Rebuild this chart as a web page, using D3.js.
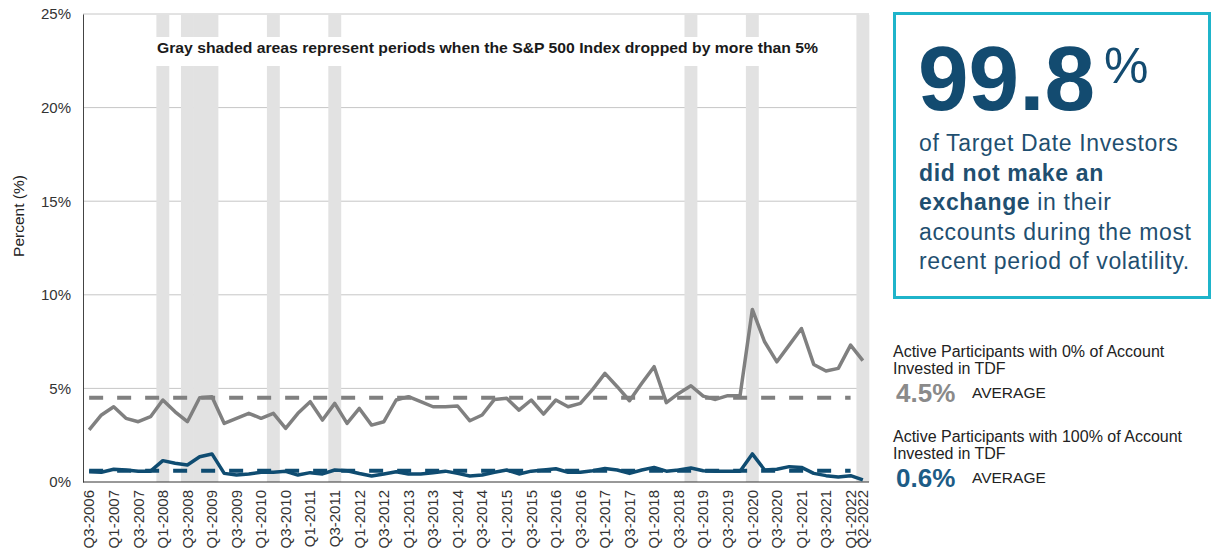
<!DOCTYPE html>
<html>
<head>
<meta charset="utf-8">
<script src="https://cdn.jsdelivr.net/npm/d3@7"></script>
<style>
  body { margin: 0; background: #fff; }
  svg { font-family: "Liberation Sans", Arial, sans-serif; }
</style>
</head>
<body>
<div id="chart"></div>
<script>
// quarters on the x axis
const quarters = [
  "Q3-2006","Q4-2006",
  "Q1-2007","Q2-2007","Q3-2007","Q4-2007",
  "Q1-2008","Q2-2008","Q3-2008","Q4-2008",
  "Q1-2009","Q2-2009","Q3-2009","Q4-2009",
  "Q1-2010","Q2-2010","Q3-2010","Q4-2010",
  "Q1-2011","Q2-2011","Q3-2011","Q4-2011",
  "Q1-2012","Q2-2012","Q3-2012","Q4-2012",
  "Q1-2013","Q2-2013","Q3-2013","Q4-2013",
  "Q1-2014","Q2-2014","Q3-2014","Q4-2014",
  "Q1-2015","Q2-2015","Q3-2015","Q4-2015",
  "Q1-2016","Q2-2016","Q3-2016","Q4-2016",
  "Q1-2017","Q2-2017","Q3-2017","Q4-2017",
  "Q1-2018","Q2-2018","Q3-2018","Q4-2018",
  "Q1-2019","Q2-2019","Q3-2019","Q4-2019",
  "Q1-2020","Q2-2020","Q3-2020","Q4-2020",
  "Q1-2021","Q2-2021","Q3-2021","Q4-2021",
  "Q1-2022","Q2-2022"
]

// labels actually printed under the axis
const tickLabels = quarters.filter(q => q.startsWith("Q1") || q.startsWith("Q3")).concat(["Q2-2022"])

// quarters when the S&P 500 dropped more than 5%
const shaded = ["Q1-2008","Q3-2008","Q4-2008","Q1-2009","Q2-2010","Q3-2011","Q4-2018","Q1-2020","Q2-2022"]

// active participants with 0% of account in TDF (gray)
const zeroTdf = [
  2.78, 3.58,
  4.02, 3.40, 3.22, 3.49,
  4.38, 3.75, 3.22, 4.50,
  4.55, 3.13, 3.40, 3.67,
  3.40, 3.67, 2.87, 3.67,
  4.29, 3.31, 4.20, 3.13,
  3.93, 3.04, 3.22, 4.38,
  4.56, 4.29, 4.02, 4.02,
  4.06, 3.27, 3.58, 4.41,
  4.47, 3.84, 4.38, 3.63,
  4.38, 4.02, 4.20, 4.95,
  5.80, 5.09, 4.34, 5.27,
  6.16, 4.24, 4.73, 5.14,
  4.59, 4.41, 4.61, 4.61,
  9.22, 7.49, 6.42, 7.31,
  8.20, 6.28, 5.93, 6.07,
  7.31, 6.48
]

// active participants with 100% of account in TDF (blue)
const fullTdf = [
  0.55, 0.52,
  0.68, 0.64, 0.58, 0.58,
  1.14, 1.00, 0.91, 1.35,
  1.50, 0.46, 0.37, 0.43,
  0.52, 0.52, 0.57, 0.37,
  0.50, 0.43, 0.64, 0.60,
  0.45, 0.32, 0.43, 0.55,
  0.43, 0.43, 0.50, 0.58,
  0.46, 0.32, 0.37, 0.52,
  0.64, 0.43, 0.58, 0.64,
  0.71, 0.52, 0.52, 0.60,
  0.72, 0.64, 0.46, 0.64,
  0.78, 0.58, 0.64, 0.75,
  0.60, 0.58, 0.58, 0.58,
  1.50, 0.64, 0.68, 0.82,
  0.78, 0.46, 0.34, 0.27,
  0.34, 0.11
]

const averages = [4.5, 0.6]
const yTicks = [0, 5, 10, 15, 20, 25]

var width = 1212
var height = 556
var margin = { top: 14, bottom: 74, left: 83, right: 343 }

const gray = "#808080"
const blue = "#0f4c71"

const svg = d3.select("#chart").append("svg")
  .attr("width", width)
  .attr("height", height)

const x = d3.scaleBand()
  .domain(quarters)
  .range([margin.left, width - margin.right])
  .padding(0)

const cx = q => x(q) + x.bandwidth() / 2

const y = d3.scaleLinear()
  .domain([0, 25])
  .range([height - margin.bottom, margin.top])

// gridlines
svg.append("g")
  .selectAll("line")
  .data(yTicks.slice(1))
  .join("line")
  .attr("x1", margin.left)
  .attr("x2", width - margin.right)
  .attr("y1", d => y(d))
  .attr("y2", d => y(d))
  .attr("stroke", "#c6c6c6")
  .attr("stroke-width", 1)

// shaded periods (slightly widened so neighbours merge)
svg.append("g")
  .attr("fill", "#e2e2e2")
  .selectAll("rect")
  .data(shaded)
  .join("rect")
  .attr("x", d => x(d) - 0.3)
  .attr("y", y(25) + 1)
  .attr("width", x.bandwidth() + 0.6)
  .attr("height", y(0) - y(25) - 1)

// note with white background
svg.append("rect")
  .attr("x", 145)
  .attr("y", 37)
  .attr("width", 685)
  .attr("height", 29)
  .attr("fill", "#fff")
svg.append("text")
  .attr("x", 157)
  .attr("y", 53)
  .attr("font-size", 15)
  .attr("font-weight", "bold")
  .attr("fill", "#1a1a1a")
  .attr("textLength", 661)
  .attr("lengthAdjust", "spacingAndGlyphs")
  .text("Gray shaded areas represent periods when the S&P 500 Index dropped by more than 5%")

// y axis
const yAxis = d3.axisLeft(y).tickValues(yTicks).tickSize(0).tickPadding(12).tickFormat(d => d + "%")
svg.append("g")
  .attr("transform", `translate(${margin.left},0)`)
  .call(yAxis)
  .call(g => g.select(".domain").attr("stroke", "#444"))
  .call(g => g.selectAll("text").attr("font-size", 15).attr("fill", "#333").attr("font-family", "Liberation Sans, Arial, sans-serif"))

svg.append("text")
  .attr("transform", `translate(24,216) rotate(-90)`)
  .attr("text-anchor", "middle")
  .attr("font-size", 15.5)
  .attr("fill", "#222")
  .text("Percent (%)")

// x axis
const xAxis = d3.axisBottom(x).tickValues(tickLabels).tickSize(0).tickPadding(0)
svg.append("g")
  .attr("transform", `translate(0,${y(0)})`)
  .call(xAxis)
  .call(g => g.select(".domain").attr("stroke", "#333").attr("d", `M${margin.left},0H${width - margin.right}`))
  .call(g => g.selectAll("text")
    .attr("font-size", 15)
    .attr("fill", "#333")
    .attr("font-family", "Liberation Sans, Arial, sans-serif")
    .attr("text-anchor", "end")
    .attr("dy", "0.35em")
    .attr("transform", "translate(0,8) rotate(-90)")
    .attr("x", 0).attr("y", 0))

// average dashed lines
const lastAvg = quarters[quarters.length - 2]
svg.append("g")
  .selectAll("line")
  .data(averages)
  .join("line")
  .attr("x1", cx(quarters[0]))
  .attr("x2", cx(lastAvg))
  .attr("y1", d => y(d))
  .attr("y2", d => y(d))
  .attr("stroke", (d, i) => i === 0 ? gray : blue)
  .attr("stroke-width", 4)
  .attr("stroke-dasharray", "14 14")

// series lines
const line = d3.line().x((d, i) => cx(quarters[i])).y(d => y(d))
svg.append("path")
  .attr("d", line(zeroTdf))
  .attr("fill", "none")
  .attr("stroke", gray)
  .attr("stroke-width", 3.5)
  .attr("stroke-linejoin", "round")
svg.append("path")
  .attr("d", line(fullTdf))
  .attr("fill", "none")
  .attr("stroke", blue)
  .attr("stroke-width", 3.5)
  .attr("stroke-linejoin", "round")

// callout box
const box = svg.append("g")
box.append("rect")
  .attr("x", 894.5).attr("y", 13.5)
  .attr("width", 315).attr("height", 284)
  .attr("fill", "#fff")
  .attr("stroke", "#1fb4ca")
  .attr("stroke-width", 3)
box.append("text")
  .attr("x", 918).attr("y", 110)
  .attr("font-size", 91).attr("font-weight", "bold")
  .attr("fill", "#134b70")
  .text("99.8")
box.append("text")
  .attr("x", 1104).attr("y", 83)
  .attr("font-size", 50)
  .attr("fill", "#134b70")
  .text("%")

const boxLines = [
  [{ t: "of Target Date Investors", b: false }],
  [{ t: "did not make an", b: true }],
  [{ t: "exchange", b: true }, { t: " in their", b: false }],
  [{ t: "accounts during the most", b: false }],
  [{ t: "recent period of volatility.", b: false }]
]
boxLines.forEach((parts, i) => {
  const t = box.append("text")
    .attr("x", 919).attr("y", 151 + i * 29.5)
    .attr("font-size", 23)
    .attr("fill", "#1f4f70")
    .attr("letter-spacing", 0.65)
  parts.forEach(p => t.append("tspan").attr("font-weight", p.b ? "bold" : "normal").text(p.t))
})

// averages legend
const legend = [
  { l1: "Active Participants with 0% of Account", l2: "Invested in TDF", v: averages[0], c: "#8a8a8a", top: 357 },
  { l1: "Active Participants with 100% of Account", l2: "Invested in TDF", v: averages[1], c: "#1c5c86", top: 442 }
]
legend.forEach(d => {
  svg.append("text").attr("x", 893).attr("y", d.top).attr("font-size", 16).attr("fill", "#222").text(d.l1)
  svg.append("text").attr("x", 893).attr("y", d.top + 17).attr("font-size", 16).attr("fill", "#222").text(d.l2)
  svg.append("text").attr("x", 896).attr("y", d.top + 45).attr("font-size", 26).attr("font-weight", "bold").attr("fill", d.c).text(d.v.toFixed(1) + "%")
  svg.append("text").attr("x", 972).attr("y", d.top + 41).attr("font-size", 15.5).attr("fill", "#222").text("AVERAGE")
})
</script>
</body>
</html>
